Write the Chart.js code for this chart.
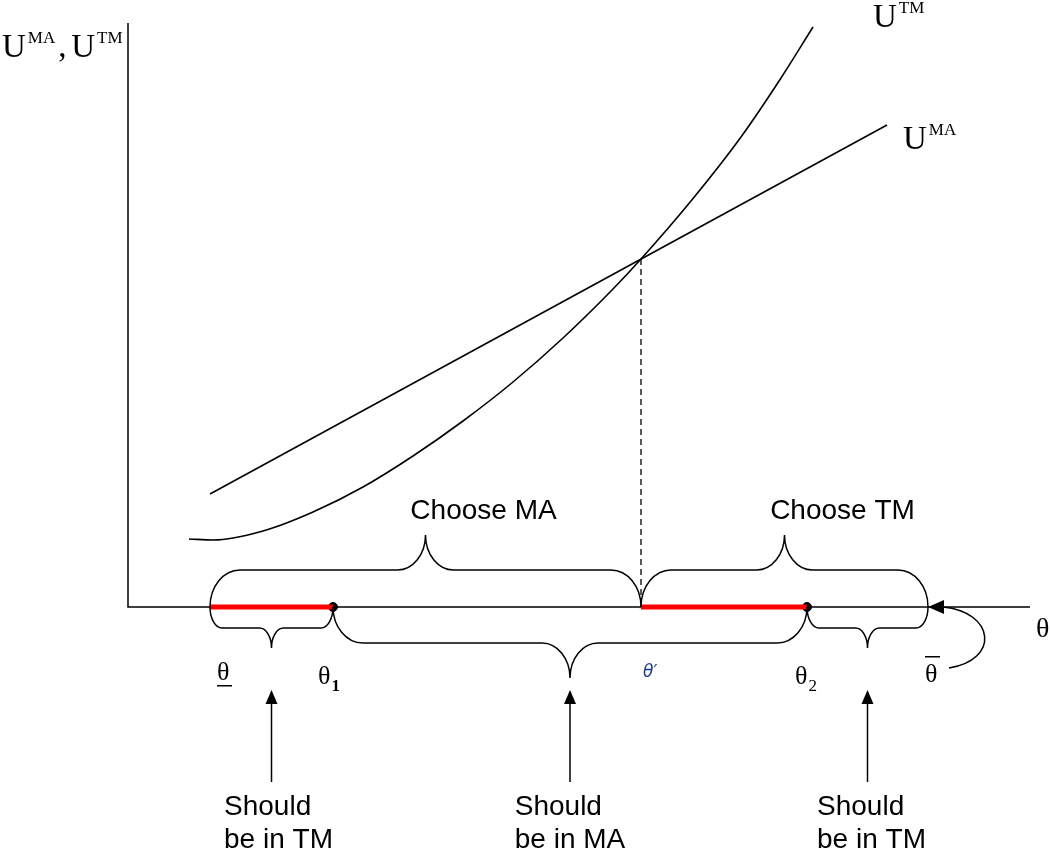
<!DOCTYPE html>
<html>
<head>
<meta charset="utf-8">
<script src="https://cdn.jsdelivr.net/npm/chart.js@4"></script>
<style>
    body { margin: 0; background: #fff; }
    #wrap { width: 1050px; height: 849px; position: relative; }
</style>
</head>
<body>
<div id="wrap"><canvas id="diagram"></canvas></div>
<script>
// values (theta on x, utility on y)
let thetaTM = [0.61, 0.85, 1.35, 1.85, 2.35, 2.85, 3.35, 3.85, 4.35, 4.85, 5.13, 5.63, 6.13, 6.53, 6.85]
let utilTM = [0.68, 0.67, 0.76, 0.95, 1.20, 1.51, 1.86, 2.25, 2.69, 3.18, 3.48, 4.06, 4.70, 5.29, 5.80]
let thetaMA = [0.82, 7.59]
let utilMA = [1.13, 4.82]

// cutoffs on the theta axis: lower bound, theta1, theta', theta2, upper bound
let cutNames = ['thetaLow', 'theta1', 'thetaPrime', 'theta2', 'thetaHigh']
let cutValues = [0.82, 2.05, 5.13, 6.79, 8.00]
let crossUtil = 3.48

let axisMax = [9.02, 5.84]

// braces above (-1) or below (+1) the axis
let braceFrom = ['thetaLow', 'thetaPrime', 'thetaLow', 'theta1', 'theta2']
let braceTo = ['thetaPrime', 'thetaHigh', 'theta1', 'theta2', 'thetaHigh']
let braceSide = [-1, -1, 1, 1, 1]
let braceLabels = ['Choose MA', 'Choose TM', '', '', '']

let cut = {}
cutNames.forEach((n, i) => cut[n] = cutValues[i])

function pts(xs, ys) {
    return xs.map((x, i) => ({ x: x, y: ys[i] }))
}

const SERIF = '"Liberation Serif", "Times New Roman", serif'
const SANS = '"Liberation Sans", Arial, sans-serif'

function drawBrace(ctx, x0, x1, yBase, dir, depth, corner, tipLen, tipHalf) {
    let k = 0.552
    let xm = (x0 + x1) / 2
    let yH = yBase + dir * depth
    let yT = yH + dir * tipLen
    ctx.beginPath()
    ctx.moveTo(x0, yBase)
    ctx.bezierCurveTo(x0, yBase + dir * k * depth, x0 + corner * (1 - k), yH, x0 + corner, yH)
    ctx.lineTo(xm - tipHalf, yH)
    ctx.bezierCurveTo(xm - tipHalf * (1 - k), yH, xm, yT - dir * k * tipLen, xm, yT)
    ctx.bezierCurveTo(xm, yT - dir * k * tipLen, xm + tipHalf * (1 - k), yH, xm + tipHalf, yH)
    ctx.lineTo(x1 - corner, yH)
    ctx.bezierCurveTo(x1 - corner * (1 - k), yH, x1, yBase + dir * k * depth, x1, yBase)
    ctx.stroke()
    return { x: xm, y: yT }
}

function upArrow(ctx, x, yTip, yEnd) {
    ctx.beginPath()
    ctx.moveTo(x, yTip + 12)
    ctx.lineTo(x, yEnd)
    ctx.stroke()
    ctx.beginPath()
    ctx.moveTo(x, yTip)
    ctx.lineTo(x - 6, yTip + 14)
    ctx.lineTo(x + 6, yTip + 14)
    ctx.closePath()
    ctx.fill()
}

// "U" with a superscript, returns the x where it ends
function uWithSup(ctx, sup, x, y) {
    ctx.font = '33px ' + SERIF
    ctx.fillText('U', x, y)
    x += ctx.measureText('U').width + 2
    ctx.font = '17px ' + SERIF
    ctx.fillText(sup, x, y - 14)
    return x + ctx.measureText(sup).width
}

// theta with a small index after it
function thetaSub(ctx, sub, x, y, bold) {
    ctx.font = '26px ' + SERIF
    ctx.fillText('θ', x, y)
    let w = ctx.measureText('θ').width
    ctx.font = (bold ? 'bold ' : '') + '17px ' + SERIF
    ctx.fillText(sub, x + w + 1, y + 7)
}

const axesPlugin = {
    id: 'axesPlugin',
    beforeDatasetsDraw(chart) {
        let ctx = chart.ctx
        let sx = chart.scales.x, sy = chart.scales.y
        let ox = sx.getPixelForValue(0), oy = sy.getPixelForValue(0)
        ctx.save()
        ctx.strokeStyle = '#000'
        ctx.lineWidth = 1.5
        ctx.beginPath()
        ctx.moveTo(ox, sy.getPixelForValue(axisMax[1]))
        ctx.lineTo(ox, oy)
        ctx.lineTo(sx.getPixelForValue(axisMax[0]), oy)
        ctx.stroke()
        ctx.restore()
    },
    afterDatasetsDraw(chart) {
        let ctx = chart.ctx
        let sx = chart.scales.x, sy = chart.scales.y
        let oy = sy.getPixelForValue(0)
        let px = v => sx.getPixelForValue(v)
        ctx.save()
        ctx.strokeStyle = '#000'
        ctx.fillStyle = '#000'
        ctx.lineWidth = 1.5

        // braces and their labels
        let tips = []
        for (let i = 0; i < braceFrom.length; i++) {
            let a = px(cut[braceFrom[i]]), b = px(cut[braceTo[i]])
            let wide = (b - a) > 200
            let depth = braceSide[i] < 0 ? 37 : (wide ? 36 : 21)
            let corner = wide ? 30 : 12
            let tipLen = wide ? 35 : 20
            let tipHalf = wide ? 28 : 12
            tips.push(drawBrace(ctx, a, b, oy, braceSide[i], depth, corner, tipLen, tipHalf))
        }
        ctx.font = '28px ' + SANS
        ctx.textAlign = 'center'
        ctx.textBaseline = 'alphabetic'
        for (let i = 0; i < braceLabels.length; i++) {
            if (braceLabels[i]) ctx.fillText(braceLabels[i], tips[i].x + 58, tips[i].y - 16)
        }

        // arrows up to the lower braces and their notes
        let notes = [['Should', 'be in TM'], ['Should', 'be in MA'], ['Should', 'be in TM']]
        let noteShift = [7, 0, 4]
        ctx.textAlign = 'left'
        for (let i = 2; i < 5; i++) {
            let t = tips[i]
            upArrow(ctx, t.x, 690, 782)
            ctx.font = '28px ' + SANS
            let n = notes[i - 2]
            let w = ctx.measureText(n[1]).width
            let left = t.x - w / 2 + noteShift[i - 2]
            ctx.fillText(n[0], left, 815)
            ctx.fillText(n[1], left, 848)
        }

        // curved arrow from theta-bar to the axis
        let hx = px(cut.thetaHigh)
        ctx.beginPath()
        ctx.moveTo(949, 668)
        ctx.bezierCurveTo(1000, 660, 995, 612, hx + 15, oy)
        ctx.stroke()
        ctx.beginPath()
        ctx.moveTo(hx, oy)
        ctx.lineTo(hx + 16, oy - 7)
        ctx.lineTo(hx + 16, oy + 7)
        ctx.closePath()
        ctx.fill()

        // theta labels
        ctx.textAlign = 'left'
        ctx.font = '28px ' + SERIF
        ctx.fillText('θ', 1036, 637)

        ctx.font = '26px ' + SERIF
        let lowX = px(cut.thetaLow) + 7
        ctx.fillText('θ', lowX, 680)
        ctx.fillRect(lowX, 685, 15, 1.5)

        thetaSub(ctx, '1', px(cut.theta1) - 15, 684, true)
        thetaSub(ctx, '2', px(cut.theta2) - 12, 684, false)

        ctx.font = '26px ' + SERIF
        ctx.fillText('θ', hx - 3, 682)
        ctx.fillRect(hx - 3, 656, 15, 1.5)

        ctx.font = 'italic 17px "DejaVu Sans", sans-serif'
        ctx.fillStyle = '#1d3b86'
        ctx.fillText('θ′', px(cut.thetaPrime) + 2, 677)
        ctx.fillStyle = '#000'

        // utility labels
        let x = uWithSup(ctx, 'MA', 2, 57)
        ctx.font = '33px ' + SERIF
        ctx.fillText(',', x + 3, 57)
        uWithSup(ctx, 'TM', x + 16, 57)
        uWithSup(ctx, 'TM', 873, 27)
        uWithSup(ctx, 'MA', 903, 149)

        ctx.restore()
    }
}

let datasets = [
    {
        label: 'U TM',
        data: pts(thetaTM, utilTM),
        showLine: true,
        borderColor: '#000',
        borderWidth: 1.6,
        pointRadius: 0,
        cubicInterpolationMode: 'monotone'
    },
    {
        label: 'U MA',
        data: pts(thetaMA, utilMA),
        showLine: true,
        borderColor: '#000',
        borderWidth: 1.6,
        pointRadius: 0
    },
    {
        label: 'cut',
        data: [{ x: cut.thetaPrime, y: crossUtil }, { x: cut.thetaPrime, y: 0 }],
        showLine: true,
        borderColor: '#000',
        borderWidth: 1.3,
        borderDash: [6, 4],
        pointRadius: 0
    },
    {
        label: 'should TM low',
        data: [{ x: cut.thetaLow, y: 0 }, { x: cut.theta1, y: 0 }],
        showLine: true,
        borderColor: '#ff0000',
        borderWidth: 5,
        pointRadius: 0
    },
    {
        label: 'should TM high',
        data: [{ x: cut.thetaPrime, y: 0 }, { x: cut.theta2, y: 0 }],
        showLine: true,
        borderColor: '#ff0000',
        borderWidth: 5,
        pointRadius: 0
    },
    {
        label: 'points',
        data: [{ x: cut.theta1, y: 0 }, { x: cut.theta2, y: 0 }],
        showLine: false,
        pointRadius: 4.5,
        backgroundColor: '#000',
        borderColor: '#000'
    }
]

new Chart(document.getElementById('diagram'), {
    type: 'scatter',
    data: { datasets: datasets },
    options: {
        responsive: true,
        maintainAspectRatio: false,
        animation: false,
        devicePixelRatio: 1,
        layout: { padding: 0, autoPadding: false },
        plugins: {
            legend: { display: false },
            tooltip: { enabled: false }
        },
        scales: {
            x: { type: 'linear', min: -1.28, max: 9.22, display: false },
            y: { type: 'linear', min: -2.42, max: 6.07, display: false }
        }
    },
    plugins: [axesPlugin]
})
</script>
</body>
</html>
